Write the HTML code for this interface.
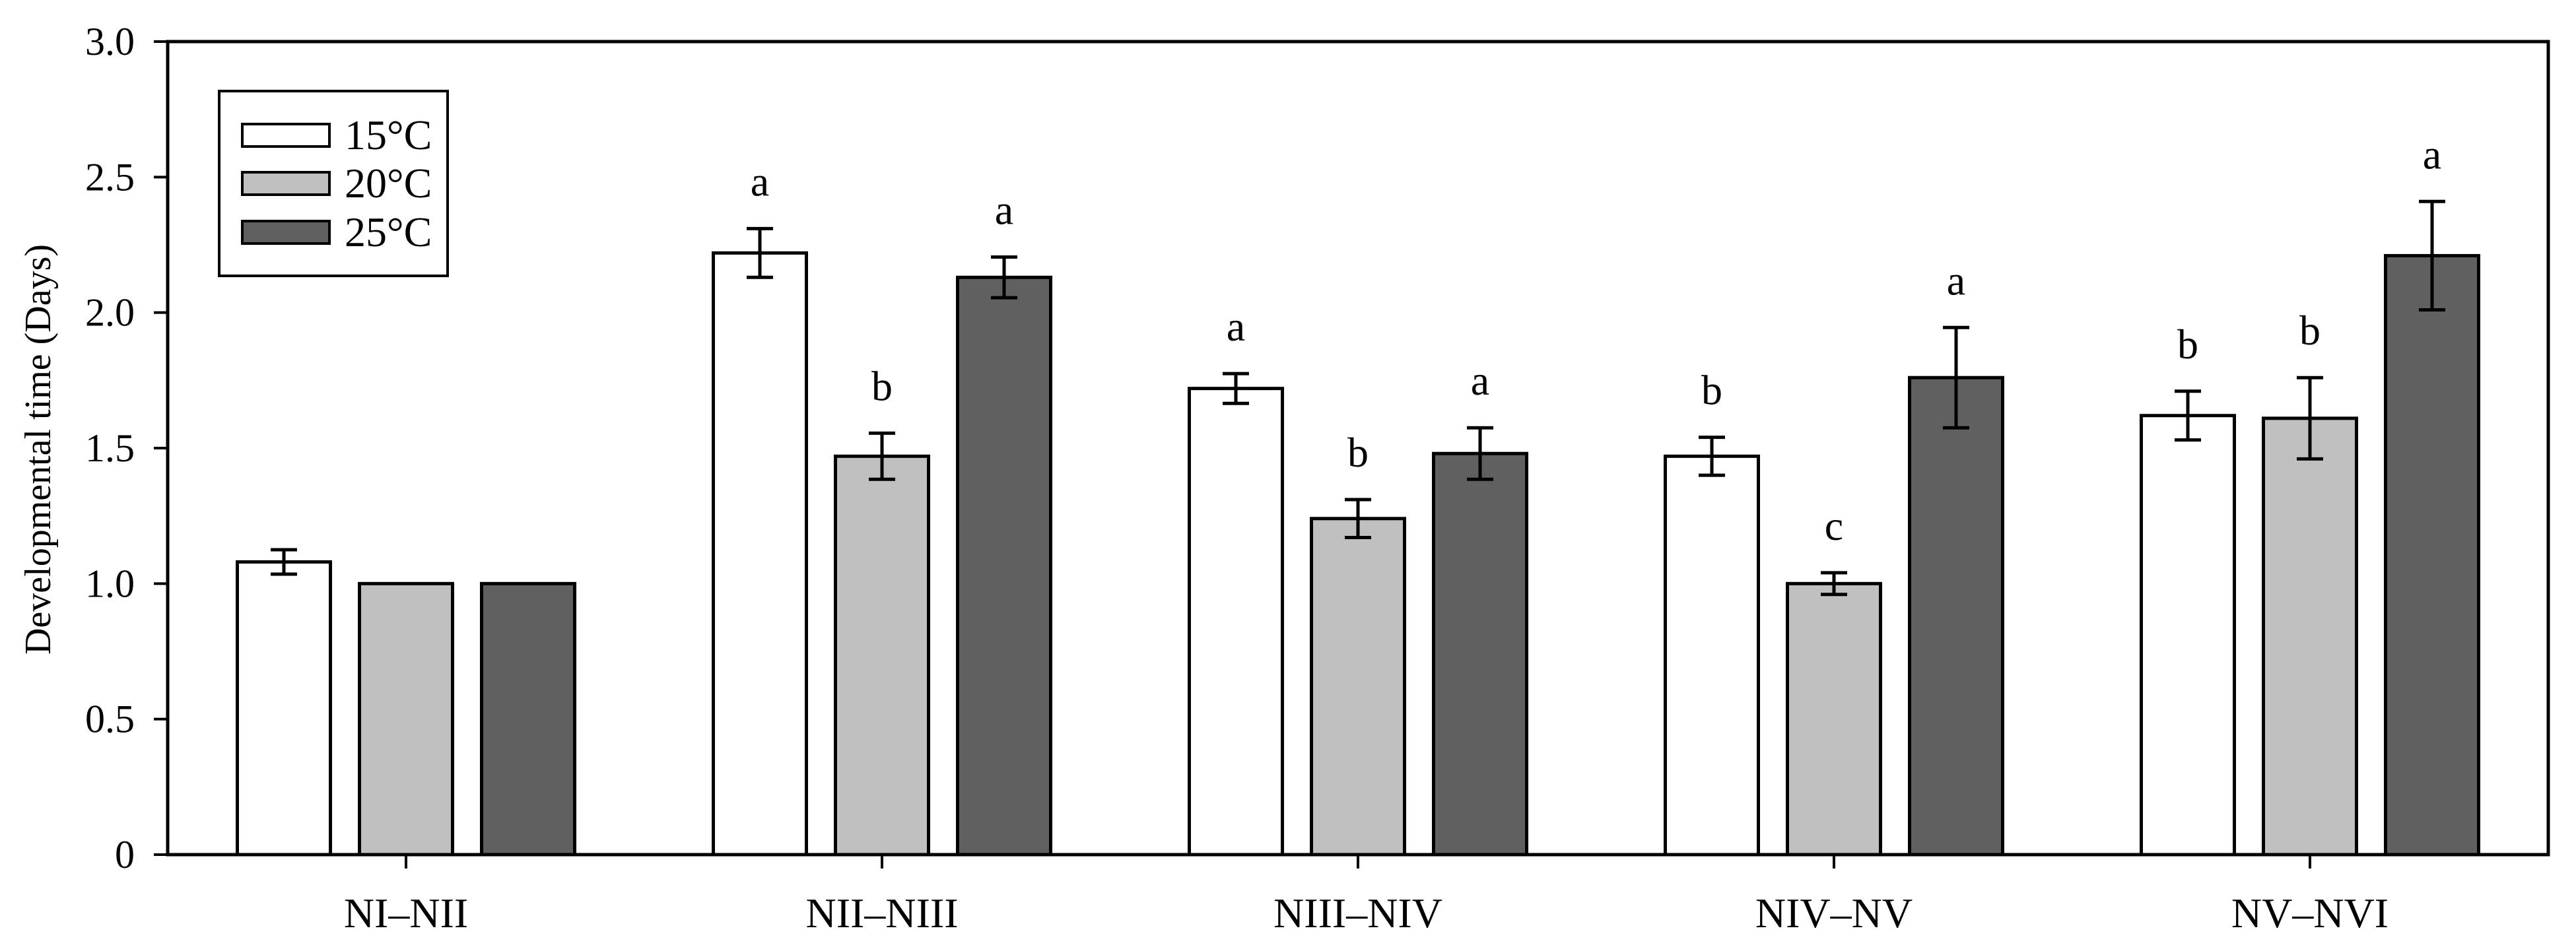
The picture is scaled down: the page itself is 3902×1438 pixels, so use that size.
<!DOCTYPE html>
<html><head><meta charset="utf-8"><style>
html,body{margin:0;padding:0;background:#fff;}
svg{display:block;font-family:"Liberation Serif",serif;}
</style></head><body>
<svg id="chart" width="3902" height="1438" viewBox="0 0 3902 1438" xmlns="http://www.w3.org/2000/svg">
<g>
<rect x="332" y="138" width="346" height="280" fill="#fff" stroke="#000" stroke-width="4"/>
<rect x="367" y="188" width="132" height="34" fill="#fff" stroke="#000" stroke-width="4"/>
<rect x="367" y="261" width="132" height="34" fill="#c0c0c0" stroke="#000" stroke-width="4"/>
<rect x="367" y="335" width="132" height="34" fill="#606060" stroke="#000" stroke-width="4"/>
<text x="522" y="226" font-size="64">15°C</text>
<text x="522" y="299" font-size="64">20°C</text>
<text x="522" y="373" font-size="64">25°C</text>
</g>
<text transform="translate(76,681) rotate(-90)" text-anchor="middle" font-size="56">Developmental time (Days)</text>
</svg>
<script>
const categories = ["NI\u2013NII","NII\u2013NIII","NIII\u2013NIV","NIV\u2013NV","NV\u2013NVI"];
const series = ["15°C","20°C","25°C"];
const values15 = [1.08, 2.22, 1.72, 1.47, 1.62];
const values20 = [1.00, 1.47, 1.24, 1.00, 1.61];
const values25 = [1.00, 2.13, 1.48, 1.76, 2.21];
const err15 = [0.045, 0.09, 0.055, 0.07, 0.09];
const err20 = [0, 0.085, 0.07, 0.04, 0.15];
const err25 = [0, 0.075, 0.095, 0.185, 0.2];
const letters15 = ["", "a", "a", "b", "b"];
const letters20 = ["", "b", "b", "c", "b"];
const letters25 = ["", "a", "a", "a", "a"];
const yTicks = [0, 0.5, 1.0, 1.5, 2.0, 2.5, 3.0];
const yTickLabels = ["0","0.5","1.0","1.5","2.0","2.5","3.0"];

const svg = document.getElementById('chart');
const NS = 'http://www.w3.org/2000/svg';
const L = 254, R = 3860, T = 63, B = 1295, YMAX = 3;
const y = v => B - (v / YMAX) * (B - T);
const xc = i => 615 + i * 721;
const fills = ["#ffffff", "#c0c0c0", "#606060"];
const vals = [values15, values20, values25];
const errs = [err15, err20, err25];
const lets = [letters15, letters20, letters25];
const offs = [-185, 0, 185];
const BW = 141;

function mk(tag, attrs) {
  const e = document.createElementNS(NS, tag);
  for (const k in attrs) e.setAttribute(k, attrs[k]);
  svg.appendChild(e);
  return e;
}

for (let s = 0; s < 3; s++) {
  for (let i = 0; i < categories.length; i++) {
    const v = vals[s][i], cx = xc(i) + offs[s];
    const r = mk('rect', {x: cx - BW / 2, y: y(v), width: BW, height: B - y(v), fill: fills[s], stroke: '#000', 'stroke-width': 5});
    
    
    const e = errs[s][i];
    if (e > 0) {
      const g = mk('path', {d: `M${cx} ${y(v + e)}V${y(v - e)}M${cx - 20} ${y(v + e)}H${cx + 20}M${cx - 20} ${y(v - e)}H${cx + 20}`, stroke: '#000', 'stroke-width': 5, fill: 'none'});
      
      
    }
    if (lets[s][i]) {
      const t = mk('text', {x: cx, y: y(v + e) - 50, 'text-anchor': 'middle', 'font-size': 64});
      t.textContent = lets[s][i];
      
      
    }
  }
}

const frame = mk('rect', {x: L, y: T, width: R - L, height: B - T, fill: 'none', stroke: '#000', 'stroke-width': 5});



for (let k = 0; k < yTicks.length; k++) {
  const tk = mk('line', {x1: L - 21, x2: L, y1: y(yTicks[k]), y2: y(yTicks[k]), stroke: '#000', 'stroke-width': 4});
  
  
  const t = mk('text', {x: 204, y: y(yTicks[k]) + 20, 'text-anchor': 'end', 'font-size': 60});
  t.textContent = yTickLabels[k];
  
  
}

for (let i = 0; i < categories.length; i++) {
  const tk = mk('line', {x1: xc(i), x2: xc(i), y1: B, y2: B + 21, stroke: '#000', 'stroke-width': 4});
  
  
  const t = mk('text', {x: xc(i), y: 1405, 'text-anchor': 'middle', 'font-size': 64});
  t.textContent = categories[i];
  
  
}
</script>
</body></html>
